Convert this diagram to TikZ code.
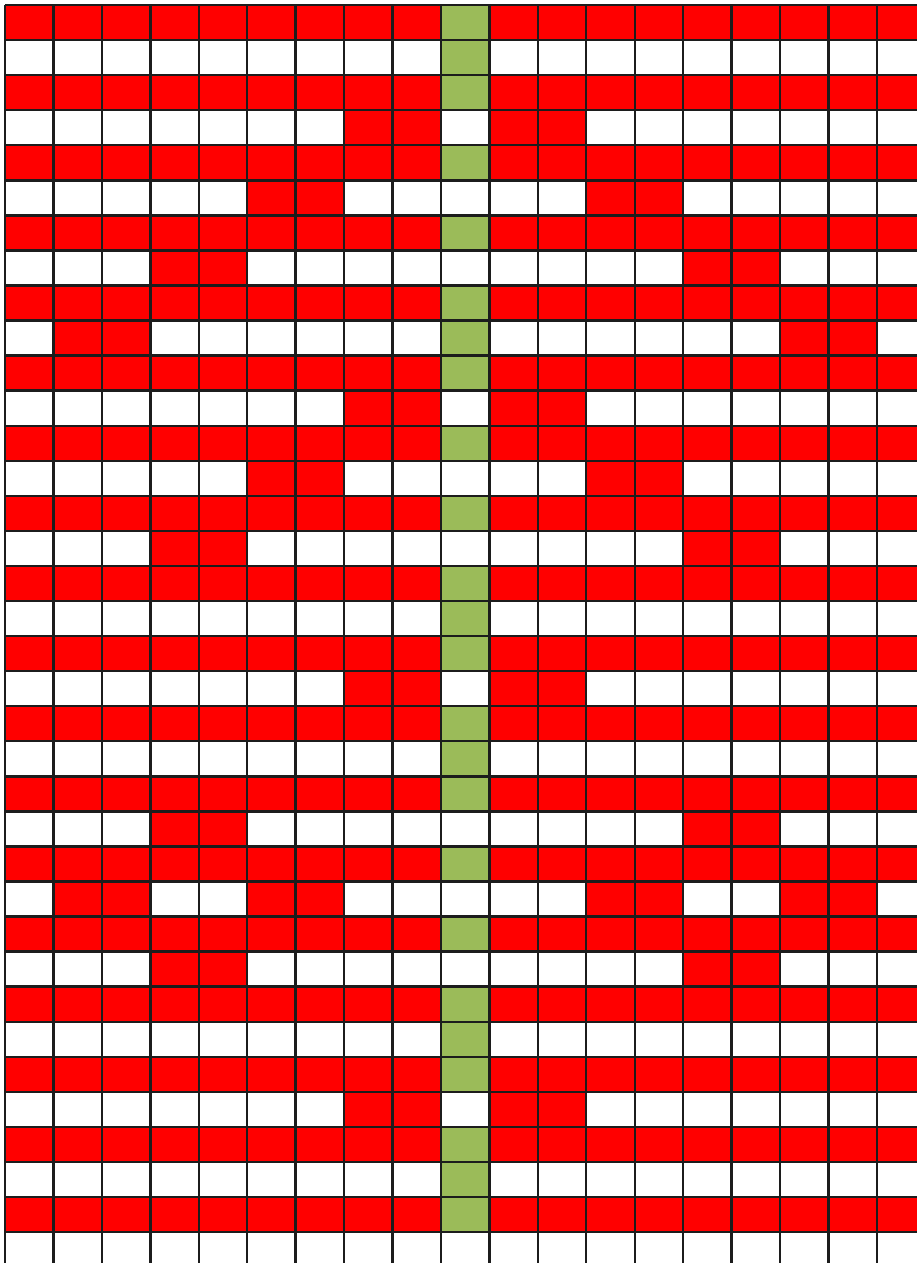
\documentclass[tikz,border=0pt]{standalone}
\definecolor{cred}{RGB}{255,0,0}
\definecolor{cgreen}{RGB}{155,187,89}
\definecolor{cline}{RGB}{28,28,28}
\tikzset{
  gridline/.style={draw=cline,line width=2.4pt},
  redcell/.style={fill=cred},
  greencell/.style={fill=cgreen}
}
\begin{document}
\begin{tikzpicture}[x=1pt,y=-1pt]
\def\cw{48.44}
\def\rh{35.06}
\def\xo{5}
\def\yo{5}
\useasboundingbox (0,0) rectangle (917,1263);
\fill[white] (0,0) rectangle (917,1263);
\clip (0,0) rectangle (917,1263);
% full red rows
\foreach \r in {0,2,...,34}
  \fill[redcell] (\xo,{\yo+\r*\rh}) rectangle (930,{\yo+(\r+1)*\rh});
% green centre column
\foreach \r in {0,1,2,4,6,8,9,10,12,14,16,17,18,20,21,22,24,26,28,29,30,32,33,34}
  \fill[greencell] ({\xo+9*\cw},{\yo+\r*\rh}) rectangle +(\cw,\rh);
% red cells in white rows (mirrored about column 9)
\foreach \r/\c in {3/7,3/8,5/5,5/6,7/3,7/4,9/1,9/2,11/7,11/8,13/5,13/6,15/3,15/4,
                   19/7,19/8,23/3,23/4,25/1,25/2,25/5,25/6,27/3,27/4,31/7,31/8}{
  \fill[redcell] ({\xo+\c*\cw},{\yo+\r*\rh}) rectangle +(\cw,\rh);
  \fill[redcell] ({\xo+(18-\c)*\cw},{\yo+\r*\rh}) rectangle +(\cw,\rh);
}
% grid lines
\foreach \i in {0,...,19}
  \draw[gridline] ({\xo+\i*\cw},\yo) -- ({\xo+\i*\cw},1270);
\foreach \j in {0,...,35}
  \draw[gridline] (\xo,{\yo+\j*\rh}) -- (930,{\yo+\j*\rh});
\end{tikzpicture}
\end{document}
